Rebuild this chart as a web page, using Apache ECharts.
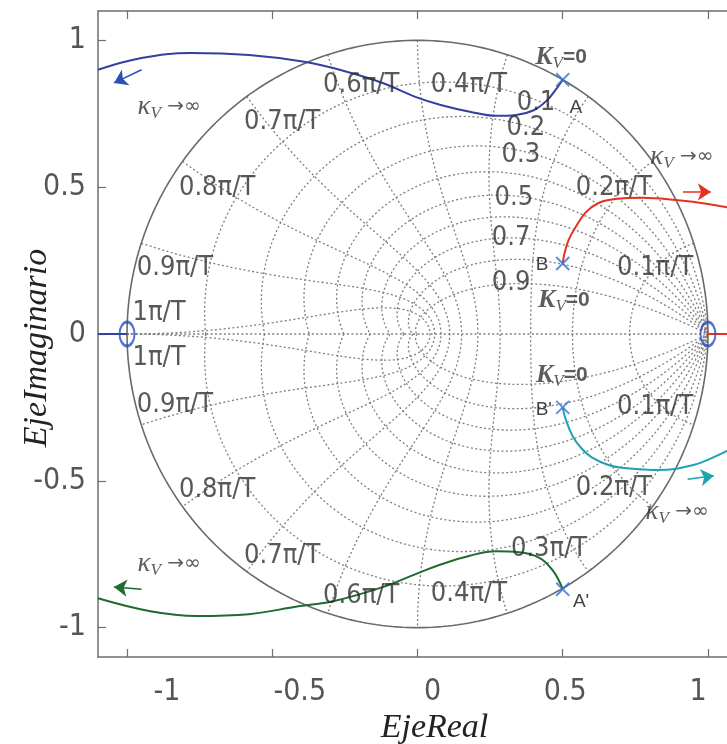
<!DOCTYPE html>
<html><head><meta charset="utf-8">
<script src="https://cdn.jsdelivr.net/npm/echarts@6/dist/echarts.min.js"></script>
<style>html,body{margin:0;padding:0;background:#fff}#c{width:727px;height:744px}</style>
</head><body><div id="c"></div>
<script>
// ---- z-plane grid (zgrid) parameters ----
const zetaValues = [0.1, 0.2, 0.3, 0.4, 0.5, 0.6, 0.7, 0.8, 0.9];
const wnValues = [0.1, 0.2, 0.3, 0.4, 0.5, 0.6, 0.7, 0.8, 0.9, 1.0]; // x pi/T
const xTickValues = [-1, -0.5, 0, 0.5, 1];
const yTickValues = [-1, -0.5, 0, 0.5, 1];

// ---- root-locus branches ----
const locusBlue = [[0.5,0.866],[0.478,0.835],[0.445,0.795],[0.40,0.762],[0.34,0.746],[0.27,0.743],[0.18,0.757],[0.08,0.78],[0.0,0.805],[-0.12,0.855],[-0.25,0.895],[-0.39,0.927],[-0.58,0.95],[-0.78,0.957],[-0.95,0.94],[-1.1,0.90]];
const locusGreen = [[0.5,-0.869],[0.467,-0.807],[0.42,-0.762],[0.35,-0.743],[0.27,-0.74],[0.18,-0.755],[0.08,-0.785],[0.0,-0.815],[-0.12,-0.862],[-0.29,-0.91],[-0.41,-0.927],[-0.58,-0.954],[-0.76,-0.96],[-0.92,-0.944],[-1.1,-0.90]];
const locusRed = [[0.5,0.24],[0.505,0.27],[0.52,0.32],[0.545,0.365],[0.58,0.415],[0.625,0.447],[0.68,0.46],[0.775,0.464],[0.89,0.456],[1.0,0.443],[1.1,0.425]];
const locusCyan = [[0.5,-0.25],[0.51,-0.29],[0.535,-0.35],[0.565,-0.39],[0.60,-0.42],[0.66,-0.447],[0.72,-0.457],[0.83,-0.463],[0.95,-0.446],[1.03,-0.415],[1.1,-0.38]];
const realBlue = [[-1.1,0],[-1,0]];
const realRed = [[1,0],[1.1,0]];
const polesA = [[0.5,0.866],[0.5,-0.869]];
const polesB = [[0.5,0.24],[0.5,-0.25]];
const zerosZ = [[-1,0],[1,0]];
const arrowBlue = [[-0.95,0.90],[-1.045,0.855]];
const arrowGreen = [[-0.95,-0.869],[-1.045,-0.862]];
const arrowRed = [[0.914,0.484],[1.01,0.484]];
const arrowCyan = [[0.93,-0.495],[1.02,-0.483]];

// ---- grid labels ----
const wnLabelText = ['0.6π/T','0.4π/T','0.7π/T','0.8π/T','0.9π/T','1π/T','0.2π/T','0.1π/T',
                     '1π/T','0.9π/T','0.8π/T','0.7π/T','0.6π/T','0.4π/T','0.3π/T','0.2π/T','0.1π/T'];
const wnLabelPos = [[-0.194,0.848],[0.177,0.848],[-0.466,0.722],[-0.69,0.497],[-0.835,0.225],[-0.89,0.072],[0.676,0.497],[0.818,0.225],
                    [-0.89,-0.082],[-0.835,-0.242],[-0.69,-0.531],[-0.466,-0.756],[-0.194,-0.893],[0.177,-0.886],[0.453,-0.733],[0.676,-0.525],[0.818,-0.249]];
const zetaLabelText = ['0.1','0.2','0.3','0.5','0.7','0.9'];
const zetaLabelPos = [[0.408,0.787],[0.373,0.702],[0.356,0.61],[0.332,0.463],[0.322,0.327],[0.322,0.174]];

// ---- annotations ----
const kInfPos = [[-0.855,0.773],[-0.855,-0.784]];          // centred
const kInfPosLeft = [[0.80,0.603],[0.783,-0.606]];         // left aligned
const kZeroPos = [[0.494,0.944],[0.504,0.116],[0.497,-0.14]];
const pointNames = ['A','B','B\'','A\''];
const pointNamePos = [[0.545,0.77],[0.429,0.235],[0.435,-0.259],[0.563,-0.913]];

// ---- build grid curves ----
function zetaCurve(z) {
  const k = z / Math.sqrt(1 - z * z), pts = [], N = 240;
  for (let i = -N; i <= N; i++) {
    const th = Math.PI * i / N, r = Math.exp(-k * Math.abs(th));
    pts.push([r * Math.cos(th), r * Math.sin(th)]);
  }
  return pts;
}
function wnCurve(w) {
  const tn = w * Math.PI, up = [], N = 120;
  for (let i = 0; i <= N; i++) {
    const u = (Math.PI / 2) * i / N, zt = Math.sin(u);
    const r = Math.exp(-zt * tn), ph = tn * Math.cos(u);
    up.push([r * Math.cos(ph), r * Math.sin(ph)]);
  }
  const low = up.slice().reverse().map(p => [p[0], -p[1]]);
  return up.concat(low.slice(1));
}
function unitCircle() {
  const pts = [], N = 360;
  for (let i = 0; i <= N; i++) { const t = 2 * Math.PI * i / N; pts.push([Math.cos(t), Math.sin(t)]); }
  return pts;
}

const gridStyle = {color: '#7e7e7e', width: 1.3, type: [2, 2.4]};
const series = [];
zetaValues.forEach(z => series.push({type: 'line', data: zetaCurve(z), showSymbol: false, silent: true, lineStyle: gridStyle, z: 1}));
wnValues.forEach(w => series.push({type: 'line', data: wnCurve(w), showSymbol: false, silent: true, lineStyle: gridStyle, z: 1}));
series.push({type: 'line', data: [[-1, 0], [1, 0]], showSymbol: false, silent: true, lineStyle: gridStyle, z: 1});
series.push({type: 'line', data: unitCircle(), showSymbol: false, silent: true, lineStyle: {color: '#6a6a6a', width: 1.6}, z: 2});

function locus(data, color) {
  return {type: 'line', data: data, smooth: 0.4, showSymbol: false, silent: true, lineStyle: {color: color, width: 2}, z: 5};
}
series.push(locus(locusBlue, '#34409c'));
series.push(locus(locusGreen, '#1f6b30'));
series.push(locus(locusRed, '#e3321f'));
series.push(locus(locusCyan, '#1fa3b0'));
series.push(locus(realBlue, '#34409c'));
series.push(locus(realRed, '#e3321f'));

function arrow(coords, color) {
  return {type: 'lines', coordinateSystem: 'cartesian2d', silent: true, z: 6,
    symbol: ['none', 'arrow'], symbolSize: 13,
    lineStyle: {color: color, width: 1.5, opacity: 1},
    data: [{coords: coords}]};
}
series.push(arrow(arrowBlue, '#2a4fb8'));
series.push(arrow(arrowGreen, '#1f6b30'));
series.push(arrow(arrowRed, '#e3321f'));
series.push(arrow(arrowCyan, '#1fa3b0'));

series.push({type: 'scatter', data: polesA.concat(polesB), symbol: 'path://M0,0L10,10M10,0L0,10', symbolSize: 13, silent: true, z: 7,
  itemStyle: {color: 'rgba(0,0,0,0)', borderColor: '#3b6fca', borderWidth: 2}});
series.push({type: 'scatter', data: zerosZ, symbol: 'circle', symbolSize: [15, 24], silent: true, z: 7,
  itemStyle: {color: 'rgba(0,0,0,0)', borderColor: '#2a50c0', borderWidth: 2.5}});

const narrow = "'Liberation Sans Narrow', 'DejaVu Sans Condensed', 'Liberation Sans', sans-serif";
function textSeries(pos, texts, label) {
  return {type: 'scatter', silent: true, z: 8, symbolSize: 1, itemStyle: {color: 'rgba(0,0,0,0)'},
    data: pos.map((p, i) => ({value: p, name: texts[i]})),
    label: Object.assign({show: true, position: 'inside', formatter: p => p.name}, label)};
}
series.push(textSeries(wnLabelPos, wnLabelText, {fontFamily: narrow, fontSize: 27, color: '#2e2e2e'}));
series.push(textSeries(zetaLabelPos, zetaLabelText, {fontFamily: narrow, fontSize: 27, color: '#2e2e2e'}));
series.push(textSeries(pointNamePos, pointNames, {fontFamily: 'Liberation Sans', fontSize: 19, color: '#111'}));

const kRich = {
  k: {fontFamily: 'Liberation Serif', fontStyle: 'italic', fontSize: 27, color: '#333'},
  s: {fontFamily: 'Liberation Serif', fontStyle: 'italic', fontSize: 17, color: '#333', padding: [13, 0, 0, 0]},
  a: {fontFamily: 'DejaVu Sans', fontSize: 20, color: '#333'},
  K: {fontFamily: 'Liberation Serif', fontStyle: 'italic', fontWeight: 'bold', fontSize: 26, color: '#333'},
  e: {fontFamily: 'Liberation Sans', fontWeight: 'bold', fontSize: 21, color: '#333'}
};
series.push(textSeries(kInfPos, kInfPos.map(() => '{k|κ}{s|V}{a| →∞}'), {rich: kRich}));
series.push(textSeries(kInfPosLeft, kInfPosLeft.map(() => '{k|κ}{s|V}{a| →∞}'), {rich: kRich, position: 'right', distance: 0}));
series.push(textSeries(kZeroPos, kZeroPos.map(() => '{K|K}{s|V}{e|=0}'), {rich: kRich}));

const frameLine = {onZero: false, lineStyle: {color: '#6e6e6e', width: 1.5}};
const tickStyle = {inside: true, length: 8, lineStyle: {color: '#6e6e6e', width: 1.2}};
const serifName = {fontFamily: 'Liberation Serif', fontStyle: 'italic', fontSize: 34, color: '#222'};

const option = {
  animation: false,
  backgroundColor: '#fff',
  grid: {left: 98, top: 11, width: 639, height: 646, outerBoundsMode: 'none'},
  xAxis: [
    {type: 'value', min: -1.1, max: 1.1, position: 'bottom', axisLine: frameLine,
     axisTick: Object.assign({customValues: xTickValues}, tickStyle), axisLabel: {show: false}, splitLine: {show: false}},
    {type: 'value', min: -1.1, max: 1.1, position: 'top', axisLine: frameLine,
     axisTick: Object.assign({customValues: xTickValues}, tickStyle), axisLabel: {show: false}, splitLine: {show: false}},
    {type: 'value', min: -1.2599, max: 1.1469, position: 'bottom', axisLine: {show: false, onZero: false}, axisTick: {show: false}, splitLine: {show: false},
     axisLabel: {customValues: xTickValues, margin: 20, fontSize: 30, color: '#555', fontFamily: narrow},
     name: 'EjeReal', nameLocation: 'middle', nameGap: 54, nameMoveOverlap: false,
     nameTextStyle: Object.assign({padding: [0, 0, 0, 34]}, serifName)}
  ],
  yAxis: [
    {type: 'value', min: -1.1, max: 1.1, position: 'left', axisLine: frameLine,
     axisTick: Object.assign({customValues: yTickValues}, tickStyle),
     axisLabel: {customValues: yTickValues, margin: 12, fontSize: 30, color: '#555', fontFamily: narrow, padding: [6, 0, 0, 0]},
     splitLine: {show: false},
     name: 'EjeImaginario', nameLocation: 'middle', nameRotate: 90, nameGap: 44, nameMoveOverlap: false,
     nameTextStyle: Object.assign({padding: [0, 28, 0, 0]}, serifName)},
    {type: 'value', min: -1.1, max: 1.1, position: 'right', axisLine: frameLine,
     axisTick: Object.assign({customValues: yTickValues}, tickStyle), axisLabel: {show: false}, splitLine: {show: false}}
  ],
  series: series
};
const chart = echarts.init(document.getElementById('c'), null, {renderer: 'canvas'});
chart.setOption(option);
</script></body></html>
